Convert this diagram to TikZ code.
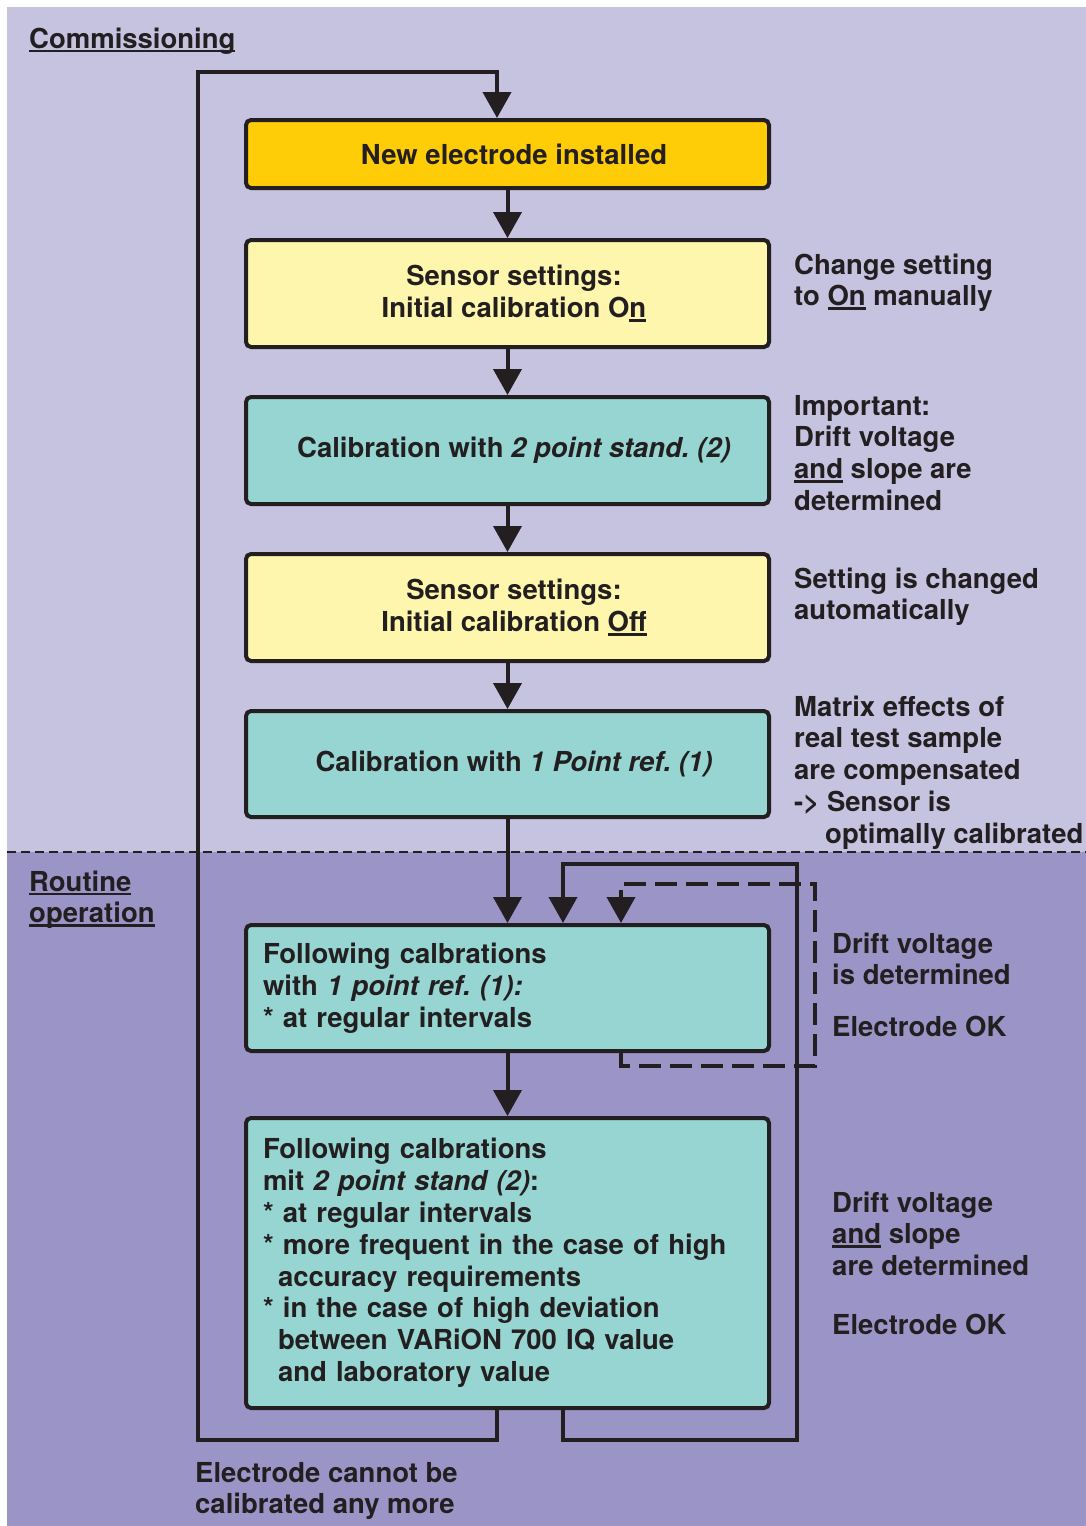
\documentclass[tikz,border=0pt]{standalone}
\usepackage{fontspec}
\setmainfont{TeX Gyre Heros}
\frenchspacing
\newsavebox\myulbox
\newcommand\myul[1]{\sbox\myulbox{#1}\rlap{\rule[-4pt]{\wd\myulbox}{2.4pt}}\usebox\myulbox}
\newcommand\shft{\hspace*{13pt}}
\usetikzlibrary{arrows.meta}
\definecolor{bglight}{HTML}{C6C3E1}
\definecolor{bgdark}{HTML}{9B95C7}
\definecolor{gold}{HTML}{FFCC08}
\definecolor{paleyellow}{HTML}{FFF6AD}
\definecolor{teal}{HTML}{96D5D2}
\definecolor{ink}{HTML}{231F20}
\tikzset{
  txt/.style={font=\fontsize{27.5}{31.8}\selectfont\bfseries, text=ink, inner sep=0pt},
  box/.style={txt, draw=ink, line width=4pt, rounded corners=5pt,
    minimum width=523pt, align=center},
  lbox/.style={box, align=left, text width=489pt, inner xsep=17pt},
  side/.style={txt, align=left, anchor=base west},
  arr/.style={draw=ink, line width=4pt, -{Triangle[width=28pt,length=26pt]}},
  dasharr/.style={arr, dash pattern=on 22pt off 9pt},
  sepline/.style={draw=ink, line width=1.3pt, dash pattern=on 9pt off 5pt}
}
\begin{document}
\begin{tikzpicture}[x=1pt,y=-1pt]
\useasboundingbox (0,0) rectangle (1086,1526);
\fill[white] (0,0) rectangle (1086,1526);
\fill[bglight] (7,7) rectangle (1086,852);
\fill[bgdark] (7,852) rectangle (1086,1526);
\coordinate (s1) at (7,852);
\coordinate (s2) at (1086,852);
\draw[sepline] (s1) -- (s2);

% boxes
\node[box, fill=gold, minimum height=68pt] (b1) at (507.5,154) {\shft New electrode installed};
\node[box, fill=paleyellow, minimum height=107pt] (b2) at (507.5,293.5) {\shft Sensor settings:\\\shft Initial calibration O\myul{n}};
\node[box, fill=teal, minimum height=107pt] (b3) at (507.5,450.5) {\shft Calibration with \textit{2 point stand. (2)}};
\node[box, fill=paleyellow, minimum height=107pt] (b4) at (507.5,607.5) {\shft Sensor settings:\\\shft Initial calibration \myul{Off}};
\node[box, fill=teal, minimum height=106pt] (b5) at (507.5,764) {\shft Calibration with \textit{1 Point ref. (1)}};
\node[lbox, fill=teal, minimum height=126pt] (b6) at (507.5,988) {Following calbrations\\with \textit{1 point ref. (1):}\\{*} at regular intervals};
\node[lbox, fill=teal, minimum height=290pt] (b7) at (507.5,1263) {Following calbrations\\mit \textit{2 point stand (2)}:\\{*} at regular intervals\\{*} more frequent in the case of high\\\hspace*{15pt}accuracy requirements\\{*} in the case of high deviation\\\hspace*{15pt}between VARiON 700 IQ value\\\hspace*{15pt}and laboratory value};

% main arrows
\draw[arr] (b1) -- (b2);
\draw[arr] (b2) -- (b3);
\draw[arr] (b3) -- (b4);
\draw[arr] (b4) -- (b5);
\draw[arr] (b5) -- (b6);
\draw[arr] (b6) -- (b7);

% left loop
\coordinate (LA) at (497,1440);
\coordinate (LB) at (198,1440);
\coordinate (LC) at (198,72);
\coordinate (LD) at (497,72);
\draw[arr] (b7.south -| LA) -- (LA) -- (LB) -- (LC) -- (LD) -- (b1.north -| LD);

% right loop
\coordinate (RA) at (563,1440);
\coordinate (RB) at (797,1440);
\coordinate (RC) at (797,864);
\coordinate (RD) at (563,864);
\draw[arr] (b7.south -| RA) -- (RA) -- (RB) -- (RC) -- (RD) -- (b6.north -| RD);

% dashed loop
\coordinate (DA) at (621,1066);
\coordinate (DB) at (815,1066);
\coordinate (DC) at (815,884);
\coordinate (DD) at (621,884);
\draw[dasharr] (b6.south -| DA) -- (DA) -- (DB) -- (DC) -- (DD) -- (b6.north -| DD);

% side texts (base anchor = last line baseline)
\node[side] (t0) at (29,48) {\myul{Commissioning}};
\node[side] (t1) at (794,305.8) {Change setting\\to \myul{On} manually};
\node[side] (t2) at (794,510.4) {Important:\\Drift voltage\\\myul{and} slope are\\determined};
\node[side] (t3) at (794,619.8) {Setting is changed\\automatically};
\node[side] (t4) at (794,843.2) {Matrix effects of\\real test sample\\are compensated\\-> Sensor is\\\hspace*{31pt}optimally calibrated};
\node[side] (t5) at (29,922.8) {\myul{Routine}\\\myul{operation}};
\node[side] (t6) at (832,984.8) {Drift voltage\\is determined};
\node[side] (t7) at (832,1036) {Electrode OK};
\node[side] (t8) at (832,1275.6) {Drift voltage\\\myul{and} slope\\are determined};
\node[side] (t9) at (832,1334) {Electrode OK};
\node[side] (t10) at (195,1513.8) {Electrode cannot be\\calibrated any more};
\end{tikzpicture}
\end{document}
